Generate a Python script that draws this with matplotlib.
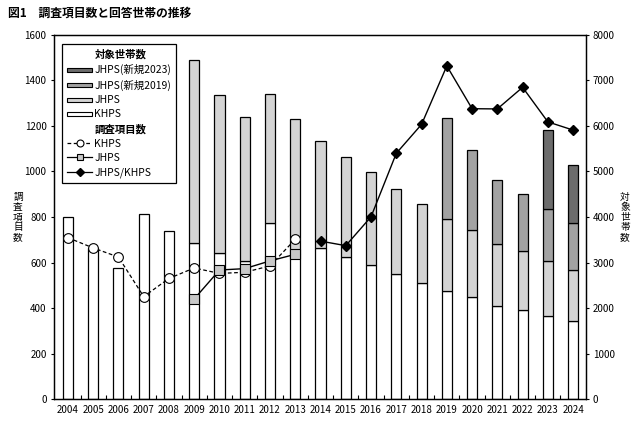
import numpy as np
import matplotlib
matplotlib.use('Agg')
import matplotlib.pyplot as plt
from matplotlib.patches import Rectangle
from matplotlib.lines import Line2D
from matplotlib.legend_handler import HandlerPatch

plt.rcParams['font.family'] = ['Noto Sans CJK JP', 'DejaVu Sans']

# years
years = [str(y) for y in range(2004, 2025)]

# households (right axis), None = no data
khps_hh = [3993, 3326, 2872, 4059, 3685, 3422, 3202, 3026, 3861, 3180, 3312,
           3114, 2938, 2740, 2542, 2366, 2234, 2037, 1949, 1817, 1707]
jhps_hh = [0, 0, 0, 0, 0, 4021, 3473, 3165, 2836, 2967, 2352,
           2198, 2044, 1868, 1737, 1583, 1473, 1362, 1296, 1209, 1121]
jhps19_hh = [0] * 15 + [2220, 1758, 1407, 1253, 1143, 1033]
jhps23_hh = [0] * 19 + [1743, 1275]

# number of survey items (left axis)
khps_items = [709, 664, 624, 450, 530, 576, 552, 557, 585, 702]          # 2004-2013
jhps_items = [440, 567, 573, 607, 636]                                    # 2009-2013
joint_items = [694, 674, 801, 1080, 1207, 1464, 1276, 1275, 1370, 1218, 1182]  # 2014-2024

x = np.arange(len(years))

fig = plt.figure(figsize=(6.38, 4.23), dpi=100)
ax = fig.add_axes([0.0839, 0.0567, 0.8346, 0.8606])
ax2 = ax.twinx()

# stacked household bars on right axis
w = 0.4
c_jhps, c_19, c_23 = '#d4d4d4', '#a2a2a2', '#6c6c6c'
b1 = np.array(khps_hh)
b2 = b1 + np.array(jhps_hh)
b3 = b2 + np.array(jhps19_hh)
ax2.bar(x, khps_hh, width=w, color='white', edgecolor='black', linewidth=0.9)
m = np.array(jhps_hh) > 0
ax2.bar(x[m], np.array(jhps_hh)[m], bottom=b1[m], width=w, color=c_jhps, edgecolor='black', linewidth=0.9)
m = np.array(jhps19_hh) > 0
ax2.bar(x[m], np.array(jhps19_hh)[m], bottom=b2[m], width=w, color=c_19, edgecolor='black', linewidth=0.9)
m = np.array(jhps23_hh) > 0
ax2.bar(x[m], np.array(jhps23_hh)[m], bottom=b3[m], width=w, color=c_23, edgecolor='black', linewidth=0.9)

# item count lines on left axis
ax.plot(x[0:10], khps_items, color='black', linestyle=(0, (3, 2)), linewidth=0.9,
        marker='o', markersize=7, markerfacecolor='white', markeredgecolor='black', markeredgewidth=0.8)
ax.plot(x[5:10], jhps_items, color='black', linewidth=1.0,
        marker='s', markersize=6.5, markerfacecolor='#c8c8c8', markeredgecolor='black', markeredgewidth=0.8)
ax.plot(x[10:], joint_items, color='black', linewidth=1.0,
        marker='D', markersize=5, markerfacecolor='black', markeredgecolor='black')

ax.set_zorder(ax2.get_zorder() + 1)
ax.patch.set_visible(False)

ax.set_xlim(-0.57, 20.51)
ax.set_ylim(0, 1600)
ax2.set_ylim(0, 8000)
ax.set_yticks(np.arange(0, 1601, 200))
ax2.set_yticks(np.arange(0, 8001, 1000))
ax.set_xticks(x)
ax.set_xticklabels(years)
ax.set_xticks(x[:-1] + 0.5, minor=True)
ax.tick_params(axis='x', which='major', length=0, labelsize=7, pad=4)
ax.tick_params(axis='x', which='minor', length=3, direction='in', width=0.8)
ax.tick_params(axis='y', length=2, labelsize=7, width=0.8, pad=3)
ax2.tick_params(axis='y', length=2, labelsize=7, width=0.8, pad=3)
for a in (ax, ax2):
    for s in a.spines.values():
        s.set_linewidth(0.9)


def thin_patch(legend, orig_handle, xdescent, ydescent, width, height, fontsize):
    return Rectangle((-xdescent, -ydescent + height * 0.2), width, height * 0.55)


blank = Line2D([], [], linestyle='none')
handles = [
    blank,
    Rectangle((0, 0), 1, 1, facecolor=c_23, edgecolor='black', linewidth=0.8),
    Rectangle((0, 0), 1, 1, facecolor=c_19, edgecolor='black', linewidth=0.8),
    Rectangle((0, 0), 1, 1, facecolor=c_jhps, edgecolor='black', linewidth=0.8),
    Rectangle((0, 0), 1, 1, facecolor='white', edgecolor='black', linewidth=0.8),
    blank,
    Line2D([], [], color='black', linestyle=(0, (3, 2)), linewidth=0.9, marker='o', markersize=5,
           markerfacecolor='white', markeredgecolor='black', markeredgewidth=0.8),
    Line2D([], [], color='black', linewidth=0.9, marker='s', markersize=5,
           markerfacecolor='#c8c8c8', markeredgecolor='black', markeredgewidth=0.8),
    Line2D([], [], color='black', linewidth=0.9, marker='D', markersize=4,
           markerfacecolor='black', markeredgecolor='black'),
]
labels = ['対象世帯数', 'JHPS(新規2023)', 'JHPS(新規2019)', 'JHPS', 'KHPS',
          '調査項目数', 'KHPS', 'JHPS', 'JHPS/KHPS']
handler_map = {h: HandlerPatch(patch_func=thin_patch) for h in handles if isinstance(h, Rectangle)}
leg = ax.legend(handles, labels, loc='upper left', bbox_to_anchor=(0.016, 0.975),
                borderaxespad=0, fontsize=7.5, frameon=True, fancybox=False,
                edgecolor='black', framealpha=1, handlelength=2.4, handletextpad=0.2,
                labelspacing=0.42, borderpad=0.5, numpoints=1, handler_map=handler_map)
leg.get_frame().set_linewidth(0.9)
for t in leg.get_texts():
    if t.get_text() in ('対象世帯数', '調査項目数'):
        t.set_fontweight('bold')

fig.text(0.013, 0.969, '図1　調査項目数と回答世帯の推移', fontsize=8.5, fontweight='bold',
         ha='left', va='center')
fig.text(18 / 638, 0.487, '\n'.join('調査項目数'), fontsize=7, ha='center', va='center',
         linespacing=1.0)
fig.text(625 / 638, 0.487, '\n'.join('対象世帯数'), fontsize=7, ha='center', va='center',
         linespacing=1.0)

fig.savefig('out.png', dpi=100)
